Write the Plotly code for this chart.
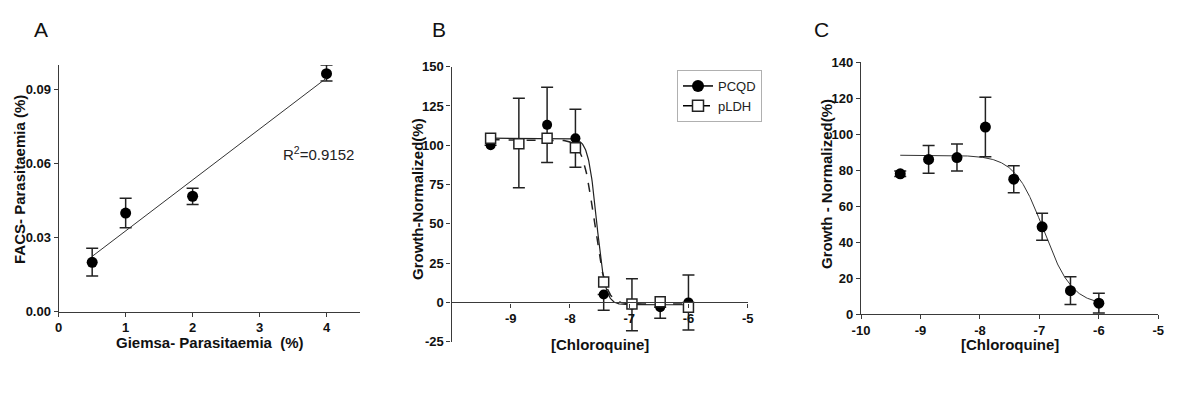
import numpy as np
import plotly.graph_objects as go

# ---------------- Data ----------------
# Panel A
a_giemsa = [0.5, 1, 2, 4]
a_facs = [0.020, 0.040, 0.0468, 0.0965]
a_err_plus = [0.0057, 0.006, 0.0032, 0.0035]
a_err_minus = [0.0055, 0.006, 0.0033, 0.003]
a_xticks = [0, 1, 2, 3, 4]
a_yticks = [0, 0.03, 0.06, 0.09]
a_r2_text = "R<sup>2</sup>=0.9152"

# Panel B (log10 [Chloroquine])
b_conc = [-9.34, -8.863, -8.386, -7.908, -7.431, -6.954, -6.477, -6.0]
b_pcqd = [100, 101, 113, 104.5, 5, -1.5, -3, 0]
b_pcqd_err_plus = [0, 29, 24, 18.5, 0, 16.5, 0, 17.5]
b_pcqd_err_minus = [0, 28, 24, 18.5, 10, 16.5, 7, 17.5]
b_pldh = [104.5, 101, 104.5, 98.5, 13, -1, 0.5, -3]
b_xticks = [-9, -8, -7, -6, -5]
b_yticks = [-25, 0, 25, 50, 75, 100, 125, 150]
# 4PL fit parameters: top, bottom, logIC50, hill
b_pcqd_fit = (104.5, -1.5, -7.55, 6.0)
b_pldh_fit = (103.5, -1.0, -7.59, 4.5)

# Panel C
c_conc = [-9.34, -8.863, -8.386, -7.908, -7.431, -6.954, -6.477, -6.0]
c_growth = [78, 86, 87, 104, 75, 48.5, 13, 6]
c_err = [1.5, 7.7, 7.5, 16.5, 7.5, 7.5, 7.7, 5.5]
c_xticks = [-10, -9, -8, -7, -6, -5]
c_yticks = [0, 20, 40, 60, 80, 100, 120, 140]
c_fit = (88.3, 5.0, -6.93, 1.8)

# ---------------- Helpers ----------------
W, H = 1200, 409
def px(x):
    return x / W
def py(y):
    return (H - y) / H

def four_pl(x, p):
    top, bottom, logic, hill = p
    return bottom + (top - bottom) / (1 + 10 ** ((x - logic) * hill))

def bold(vals, fmt="{:g}"):
    return ["<b>" + fmt.format(v) + "</b>" for v in vals]

FONT = "Liberation Sans, Arial, sans-serif"
AX = "#3a3a3a"
tickfont = dict(family=FONT, size=13, color="#111")

def axis_common(ticks_list, fmt="{:g}", **kw):
    d = dict(showline=True, linecolor=AX, linewidth=1.3, ticks="outside",
             ticklen=4, tickwidth=1.3, tickcolor=AX, showgrid=False,
             zeroline=False, tickfont=tickfont, automargin=False,
             tickvals=ticks_list, ticktext=bold(ticks_list, fmt))
    d.update(kw)
    return d

fig = go.Figure()

# ---------------- Panel A ----------------
fig.add_trace(go.Scatter(
    x=a_giemsa, y=a_facs, mode="markers",
    marker=dict(color="black", size=11),
    error_y=dict(type="data", symmetric=False, array=a_err_plus,
                 arrayminus=a_err_minus, thickness=1.5, width=6, color="#222"),
    xaxis="x", yaxis="y", showlegend=False))
slope, intercept = np.polyfit(a_giemsa, a_facs, 1)
xl = np.array([min(a_giemsa), max(a_giemsa)])
fig.add_trace(go.Scatter(
    x=xl, y=slope * xl + intercept, mode="lines",
    line=dict(color="#333", width=1), xaxis="x", yaxis="y", showlegend=False))

# ---------------- Panel B ----------------
xs = np.linspace(min(b_conc), max(b_conc), 400)
fig.add_trace(go.Scatter(
    x=xs, y=four_pl(xs, b_pldh_fit), mode="lines",
    line=dict(color="#222", width=1.5, dash="dash"),
    xaxis="x2", yaxis="y2", showlegend=False, hoverinfo="skip"))
fig.add_trace(go.Scatter(
    x=xs, y=four_pl(xs, b_pcqd_fit), mode="lines",
    line=dict(color="#222", width=1.2),
    xaxis="x2", yaxis="y2", showlegend=False, hoverinfo="skip"))
fig.add_trace(go.Scatter(
    x=b_conc, y=b_pcqd, mode="markers", name="PCQD",
    marker=dict(color="black", size=10),
    error_y=dict(type="data", symmetric=False, array=b_pcqd_err_plus,
                 arrayminus=b_pcqd_err_minus, thickness=1.5, width=6, color="#222"),
    xaxis="x2", yaxis="y2", showlegend=False))
fig.add_trace(go.Scatter(
    x=b_conc, y=b_pldh, mode="markers", name="pLDH",
    marker=dict(color="white", size=10, symbol="square",
                line=dict(color="#222", width=1.5)),
    xaxis="x2", yaxis="y2", showlegend=False))
# legend entries
fig.add_trace(go.Scatter(
    x=[None], y=[None], mode="lines+markers", name="PCQD",
    line=dict(color="black", width=1.5),
    marker=dict(color="black", size=12), xaxis="x2", yaxis="y2"))
fig.add_trace(go.Scatter(
    x=[None], y=[None], mode="lines+markers", name="pLDH",
    line=dict(color="black", width=1.5, dash="dash"),
    marker=dict(color="white", size=11, symbol="square",
                line=dict(color="#222", width=1.5)), xaxis="x2", yaxis="y2"))

# ---------------- Panel C ----------------
xc = np.linspace(min(c_conc), max(c_conc), 400)
fig.add_trace(go.Scatter(
    x=xc, y=four_pl(xc, c_fit), mode="lines",
    line=dict(color="#333", width=1), xaxis="x3", yaxis="y3",
    showlegend=False, hoverinfo="skip"))
fig.add_trace(go.Scatter(
    x=c_conc, y=c_growth, mode="markers",
    marker=dict(color="black", size=11),
    error_y=dict(type="data", array=c_err, thickness=1.5, width=6, color="#222"),
    xaxis="x3", yaxis="y3", showlegend=False))

# ---------------- Layout ----------------
a_dom_x = [px(58.7), px(360)]
a_dom_y = [py(311.7), py(65)]
b_dom_x = [px(451.5), px(747.7)]
b_dom_y = [py(341.7), py(66.7)]
c_dom_x = [px(861), px(1158.3)]
c_dom_y = [py(314), py(62.3)]

b_yrange = [-25, 150]
b_zero_pos = b_dom_y[0] + (0 - b_yrange[0]) / (b_yrange[1] - b_yrange[0]) * (b_dom_y[1] - b_dom_y[0])

fig.update_layout(
    width=W, height=H, autosize=False, margin=dict(l=0, r=0, t=0, b=0, pad=0),
    paper_bgcolor="white", plot_bgcolor="white",
    font=dict(family=FONT, color="#111"),
    xaxis=axis_common(a_xticks, domain=a_dom_x, range=[0, 4.5], anchor="y"),
    yaxis=axis_common(a_yticks, "{:.2f}", domain=a_dom_y, range=[0, 0.1], anchor="x"),
    xaxis2=axis_common(b_xticks, domain=b_dom_x, range=[-10, -5],
                       anchor="free", position=b_zero_pos),
    yaxis2=axis_common(b_yticks, domain=b_dom_y, range=b_yrange, anchor="x2"),
    xaxis3=axis_common(c_xticks, domain=c_dom_x, range=[-10, -5], anchor="y3"),
    yaxis3=axis_common(c_yticks, domain=c_dom_y, range=[0, 140], anchor="x3"),
    legend=dict(x=px(677), y=py(70), xanchor="left", yanchor="top",
                bordercolor="#b0b0b0", borderwidth=1, bgcolor="white",
                font=dict(family=FONT, size=13, color="#222"),
                itemwidth=30, tracegroupgap=0),
)

title_font = dict(family=FONT, size=15, color="#111", weight="bold")
ann = []
def add_text(x, y, text, font, angle=0):
    ann.append(dict(x=px(x), y=py(y), xref="paper", yref="paper", text=text,
                    showarrow=False, font=font, textangle=angle,
                    xanchor="center", yanchor="middle"))

# panel letters
letter_font = dict(family=FONT, size=21, color="#111")
add_text(41, 29, "A", letter_font)
add_text(439, 29, "B", letter_font)
add_text(821, 29, "C", letter_font)
# axis titles
add_text(19, 180, "FACS- Parasitaemia (%)", title_font, -90)
add_text(210, 342, "Giemsa- Parasitaemia  (%)", title_font)
add_text(417, 199, "Growth-Normalized(%)", title_font, -90)
add_text(600, 344, "[Chloroquine]", title_font)
add_text(827, 184, "Growth - Normalized(%)", title_font, -90)
add_text(1010, 344, "[Chloroquine]", title_font)
# R2
add_text(318, 153, a_r2_text, dict(family=FONT, size=15, color="#222"))

fig.update_layout(annotations=ann)
fig.write_html("out.html", config={"displayModeBar": False},
               post_script="document.body.style.margin='0';document.body.style.overflow='hidden';")
